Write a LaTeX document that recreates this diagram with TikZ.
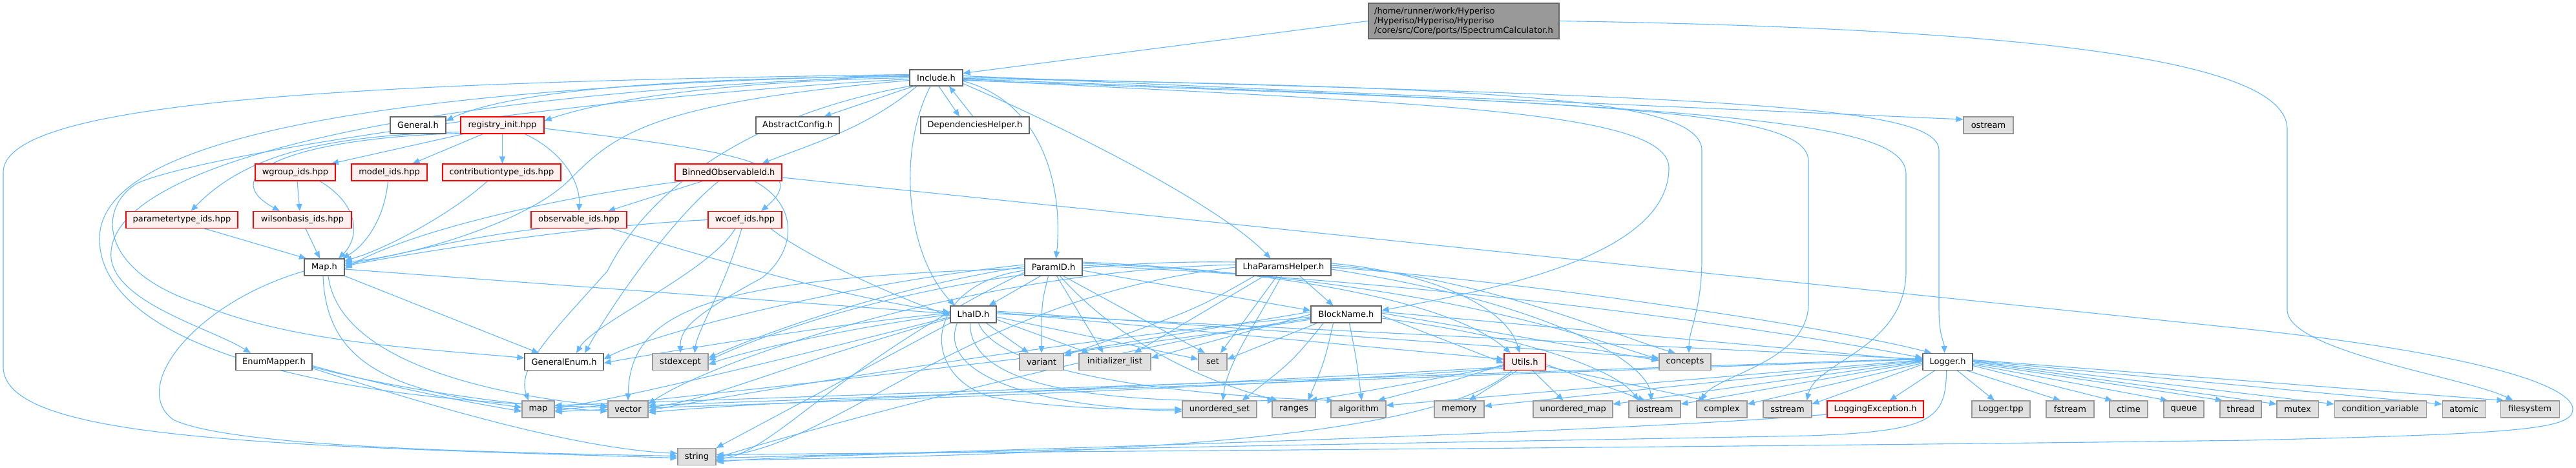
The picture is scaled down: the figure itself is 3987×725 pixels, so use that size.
\documentclass[tikz,border=0pt]{standalone}
\usepackage{fontspec}
\setmainfont{DejaVu Sans}
\usetikzlibrary{arrows.meta}
\definecolor{edgec}{HTML}{63B8FF}
\definecolor{gfour}{HTML}{666666}
\definecolor{gsix}{HTML}{999999}
\definecolor{sysc}{HTML}{E0E0E0}
\definecolor{redf}{HTML}{FFF0F0}
\definecolor{rootc}{HTML}{999999}
\pgfdeclarelayer{bg}
\pgfdeclarelayer{edgelayer}
\pgfsetlayers{bg,edgelayer,main}
\tikzset{
  e/.style={draw=edgec, line width=1.1pt, -{Triangle[length=11pt,width=9pt]}},
  nb/.style={draw=gfour, fill=white, line width=1.1pt, minimum height=26pt, inner sep=0pt, font=\fontsize{13}{15}\selectfont, text=black},
  sb/.style={nb, draw=gsix, fill=sysc},
  rb/.style={nb, draw=red, fill=redf},
  rootb/.style={nb, draw=gfour, fill=rootc, minimum height=55pt, align=left}
}
\begin{document}
\begin{tikzpicture}[x=1pt,y=1pt]
\useasboundingbox (0,0) rectangle (3987,-725);
\begin{pgfonlayer}{bg}
\fill[white] (0,0) rectangle (3987,-725);
\end{pgfonlayer}
% nodes
\node[rootb, minimum width=295pt] (root) at (2265.5,-32.5) {/home/runner/work/Hyperiso\\/Hyperiso/Hyperiso/Hyperiso\\/core/src/Core/ports/ISpectrumCalculator.h};
\node[nb, minimum width=82pt, minimum height=25pt] (inc) at (1449,-120.5) {Include.h};
\node[nb, minimum width=168pt] (dep) at (1509,-194) {DependenciesHelper.h};
\node[nb, minimum width=86pt] (gen) at (647,-194) {General.h};
\node[rb, minimum width=129pt] (reg) at (777.5,-194) {registry\_init.hpp};
\node[nb, minimum width=129pt] (abs) at (1234.5,-194) {AbstractConfig.h};
\node[sb, minimum width=77pt] (ost) at (3077.5,-194) {ostream};
\node[rb, minimum width=124pt] (wgr) at (457,-267) {wgroup\_ids.hpp};
\node[rb, minimum width=117pt] (mod) at (602.5,-267) {model\_ids.hpp};
\node[rb, minimum width=183pt] (con) at (776.5,-267) {contributiontype\_ids.hpp};
\node[rb, minimum width=165pt] (bin) at (1127.5,-267) {BinnedObservableId.h};
\node[rb, minimum width=173pt] (par) at (281.5,-340.5) {parametertype\_ids.hpp};
\node[rb, minimum width=152pt] (wil) at (468,-340.5) {wilsonbasis\_ids.hpp};
\node[rb, minimum width=148pt] (obs) at (896,-340.5) {observable\_ids.hpp};
\node[rb, minimum width=114pt] (wco) at (1153,-340.5) {wcoef\_ids.hpp};
\node[nb, minimum width=62pt] (mapH) at (502,-414) {Map.h};
\node[nb, minimum width=89pt] (pid) at (1630.5,-414) {ParamID.h};
\node[nb, minimum width=147pt] (lph) at (1986.5,-414) {LhaParamsHelper.h};
\node[nb, minimum width=71pt] (lid) at (1506.5,-487) {LhaID.h};
\node[nb, minimum width=109pt] (bn) at (2083.5,-487) {BlockName.h};
\node[nb, minimum width=118pt] (enm) at (424,-560.5) {EnumMapper.h};
\node[nb, minimum width=122pt] (genum) at (873,-560.5) {GeneralEnum.h};
\node[sb, minimum width=86pt] (stdx) at (1053,-560.5) {stdexcept};
\node[sb, minimum width=68pt] (var) at (1612,-560.5) {variant};
\node[sb, minimum width=111pt] (ini) at (1725.5,-560.5) {initializer\_list};
\node[sb, minimum width=44pt] (sset) at (1877,-560.5) {set};
\node[rb, minimum width=64pt] (uti) at (2360,-560.5) {Utils.h};
\node[sb, minimum width=80pt] (cpt) at (2608,-560.5) {concepts};
\node[nb, minimum width=77pt] (log) at (3014.5,-560.5) {Logger.h};
\node[sb, minimum width=50pt] (smap) at (833,-634) {map};
\node[sb, minimum width=62pt] (vec) at (972,-634) {vector};
\node[sb, minimum width=115pt] (uset) at (1887.5,-634) {unordered\_set};
\node[sb, minimum width=67pt] (rng) at (2002.5,-634) {ranges};
\node[sb, minimum width=85pt] (alg) at (2102.5,-634) {algorithm};
\node[sb, minimum width=77pt] (mem) at (2258.5,-634) {memory};
\node[sb, minimum width=123pt] (umap) at (2434.5,-634) {unordered\_map};
\node[sb, minimum width=80pt] (ios) at (2561,-634) {iostream};
\node[sb, minimum width=78pt] (cpx) at (2665,-634) {complex};
\node[sb, minimum width=75pt] (sst) at (2766.5,-634) {sstream};
\node[rb, minimum width=149pt] (lex) at (2902.5,-634) {LoggingException.h};
\node[sb, minimum width=90pt] (ltpp) at (3097,-634) {Logger.tpp};
\node[sb, minimum width=74pt] (fst) at (3204,-634) {fstream};
\node[sb, minimum width=59pt] (ctm) at (3294.5,-634) {ctime};
\node[sb, minimum width=62pt] (que) at (3380,-634) {queue};
\node[sb, minimum width=64pt] (thr) at (3468,-634) {thread};
\node[sb, minimum width=64pt] (mtx) at (3556,-634) {mutex};
\node[sb, minimum width=142pt] (cv) at (3684,-634) {condition\_variable};
\node[sb, minimum width=67pt] (atm) at (3813.5,-634) {atomic};
\node[sb, minimum width=91pt] (fsys) at (3915.5,-634) {filesystem};
\node[sb, minimum width=59pt] (str) at (1078.5,-707.5) {string};
% edges
\begin{pgfonlayer}{edgelayer}
% root
\draw[e] (root.west) -- ([yshift=7pt]inc.east);
\draw[e] (root.east) .. controls (3200,-45) and (3540,-100) .. (3540,-200) -- (3540,-480) .. controls (3540,-545) and (3820,-585) .. ([xshift=-26pt]fsys.north);
% Include
\draw[e] ([xshift=4pt]inc.south) -- ([xshift=-24pt]dep.north);
\draw[e] ([xshift=-3pt]dep.north) -- ([xshift=20pt]inc.south);
\draw[e] ([yshift=2pt]inc.west) .. controls (1100,-120) and (800,-135) .. ([yshift=7pt]gen.east);
\draw[e] ([yshift=0pt]inc.west) .. controls (1150,-125) and (950,-150) .. ([yshift=7pt]reg.east);
\draw[e] ([xshift=-35pt]inc.south) -- ([xshift=41pt]abs.north);
\draw[e] ([xshift=-30pt]inc.south) .. controls (1340,-200) and (1250,-225) .. ([xshift=52pt]bin.north);
\draw[e] ([yshift=-5pt]inc.east) .. controls (1620,-160) and (1645,-300) .. ([xshift=4pt]pid.north);
\draw[e] ([yshift=-9pt]inc.east) .. controls (1700,-220) and (1900,-330) .. ([xshift=-20pt]lph.north);
\draw[e] ([xshift=-9pt]inc.south) .. controls (1390,-230) and (1400,-390) .. ([xshift=-29pt]lid.north);
\draw[e] ([yshift=-3pt]inc.east) .. controls (2200,-160) and (2583,-170) .. (2583,-260) .. controls (2583,-400) and (2300,-450) .. ([yshift=6pt]bn.east);
\draw[e] ([yshift=-1pt]inc.east) .. controls (2300,-135) and (2634,-150) .. (2634,-233) -- (2634,-400) .. controls (2634,-480) and (2614,-510) .. ([xshift=6pt]cpt.north);
\draw[e] ([yshift=3pt]inc.east) -- ([yshift=9pt]ost.west);
\draw[e] ([yshift=1pt]inc.east) .. controls (2700,-150) and (3001,-165) .. (3001,-233) -- (3001,-480) .. controls (3001,-520) and (3009,-530) .. ([xshift=-5pt]log.north);
\draw[e] ([yshift=-2pt]inc.east) .. controls (2700,-165) and (2950,-190) .. (2950,-270) -- (2950,-420) .. controls (2950,-540) and (2810,-560) .. ([xshift=30pt]sst.north);
\draw[e] ([yshift=-4pt]inc.east) .. controls (2500,-160) and (2799,-170) .. (2799,-250) -- (2799,-470) .. controls (2799,-560) and (2660,-580) .. ([xshift=-33pt]cpx.north);
\draw[e] ([yshift=5pt]inc.west) .. controls (500,-128) and (5,-160) .. (5,-267) -- (5,-568) .. controls (5,-680) and (400,-690) .. ([yshift=-2pt]str.west);
\draw[e] ([yshift=4pt]inc.west) .. controls (550,-135) and (154,-220) .. (154,-370) .. controls (154,-520) and (450,-620) .. ([yshift=3pt]vec.west);
\draw[e] ([yshift=3pt]inc.west) .. controls (600,-145) and (160,-260) .. (172,-400) .. controls (180,-470) and (330,-510) .. ([xshift=-36pt]enm.north);
\draw[e] ([yshift=-2pt]inc.west) .. controls (900,-150) and (330,-235) .. (214,-283) .. controls (150,-320) and (150,-420) .. (312,-472) .. controls (450,-530) and (650,-540) .. ([yshift=6pt]genum.west);
\draw[e] ([yshift=-4pt]inc.west) .. controls (1000,-160) and (950,-210) .. (880,-280) .. controls (820,-340) and (650,-395) .. ([yshift=8pt]mapH.east);
\draw[e] (inc.south west) .. controls (1150,-180) and (1000,-300) .. (940,-420) .. controls (850,-520) and (800,-570) .. ([xshift=-15pt]smap.north);
% registry
\draw[e] ([xshift=-60pt]reg.south) -- ([xshift=56pt]wgr.north);
\draw[e] ([xshift=-30pt]reg.south) -- ([xshift=36pt]mod.north);
\draw[e] (reg.south) -- ([xshift=1pt]con.north);
\draw[e] ([yshift=3pt]reg.south west) .. controls (500,-210) and (380,-240) .. ([xshift=14pt]par.north);
\draw[e] ([yshift=1pt]reg.south west) .. controls (450,-214) and (330,-270) .. ([xshift=-35pt]wil.north);
\draw[e] ([xshift=35pt]reg.south) .. controls (880,-240) and (898,-290) .. (obs.north);
\draw[e] ([yshift=-5pt]reg.east) .. controls (1100,-230) and (1270,-250) .. ([xshift=25pt]wco.north);
% ids
\draw[e] ([xshift=3pt]wgr.south) -- ([xshift=-4pt]wil.north);
\draw[e] ([xshift=38pt]wgr.south) .. controls (560,-320) and (555,-370) .. ([xshift=22pt]mapH.north);
\draw[e] ([xshift=-2pt]mod.south) .. controls (595,-340) and (565,-380) .. ([xshift=28pt]mapH.north);
\draw[e] ([xshift=-22pt]con.south) .. controls (700,-330) and (600,-385) .. ([yshift=10pt]mapH.east);
\draw[e] ([xshift=35pt]par.south) -- ([xshift=-28pt]mapH.north);
\draw[e] ([xshift=5pt]wil.south) -- ([xshift=-7pt]mapH.north);
\draw[e] ([xshift=-60pt]obs.south) .. controls (700,-370) and (600,-400) .. ([yshift=5pt]mapH.east);
\draw[e] ([xshift=50pt]obs.south) .. controls (1100,-400) and (1300,-460) .. ([yshift=3pt]lid.west);
\draw[e] (wco.west) .. controls (900,-350) and (650,-390) .. ([yshift=2pt]mapH.east);
\draw[e] ([xshift=-15pt]wco.south) .. controls (1100,-420) and (920,-500) .. ([xshift=19pt]genum.north);
\draw[e] ([xshift=-5pt]wco.south) .. controls (1120,-450) and (1080,-510) .. ([xshift=22pt]stdx.north);
\draw[e] ([xshift=40pt]wco.south) .. controls (1250,-400) and (1400,-465) .. ([yshift=-2pt]lid.west);
\draw[e] ([xshift=-40pt]bin.south) -- ([xshift=45pt]obs.north);
\draw[e] ([xshift=-15pt]bin.south) .. controls (1050,-330) and (960,-450) .. ([xshift=32pt]genum.north);
\draw[e] ([xshift=40pt]bin.south) .. controls (1240,-320) and (1230,-390) .. (1180,-430) .. controls (1070,-490) and (1053,-510) .. (stdx.north);
\draw[e] ([xshift=-70pt]bin.south) .. controls (900,-300) and (650,-350) .. ([yshift=-2pt]mapH.east);
\draw[e] ([yshift=-8pt]bin.east) -- (3480,-510) .. controls (3850,-550) and (3985,-600) .. (3982,-635) .. controls (3980,-665) and (3900,-672) .. (3480,-682) .. controls (2500,-695) and (1500,-700) .. ([yshift=3pt]str.east);
% Map
\draw[e] (mapH.south east) -- ([xshift=-39pt]genum.north);
\draw[e] ([xshift=-2pt]mapH.south) .. controls (505,-560) and (600,-605) .. ([yshift=3pt]smap.west);
\draw[e] ([xshift=6pt]mapH.south) .. controls (525,-560) and (760,-612) .. ([yshift=5pt]vec.west);
\draw[e] ([yshift=-6pt]mapH.west) .. controls (300,-470) and (200,-600) .. (268,-650) .. controls (350,-690) and (700,-700) .. ([yshift=1pt]str.west);
\draw[e] ([yshift=-3pt]mapH.east) -- ([yshift=1pt]lid.west);
% EnumMapper
\draw[e] ([yshift=-6pt]enm.east) .. controls (600,-600) and (750,-628) .. ([yshift=-3pt]smap.west);
\draw[e] ([yshift=-8pt]enm.east) .. controls (650,-612) and (850,-632) .. ([yshift=-3pt]vec.west);
\draw[e] ([yshift=-10pt]enm.east) .. controls (700,-640) and (900,-695) .. ([yshift=5pt]str.west);
% ParamID
\draw[e] ([xshift=-20pt]pid.south) -- ([xshift=24pt]lid.north);
\draw[e] ([xshift=-8pt]pid.south) .. controls (1612,-470) .. (var.north);
\draw[e] ([xshift=5pt]pid.south) -- ([xshift=-18pt]ini.north);
\draw[e] ([xshift=15pt]pid.south) -- ([xshift=-12pt]sset.north);
\draw[e] ([xshift=10pt]pid.south) .. controls (1750,-550) and (1900,-600) .. ([xshift=-25pt]rng.north);
\draw[e] ([yshift=-5pt]pid.east) -- ([yshift=6pt]bn.west);
\draw[e] ([yshift=4pt]pid.west) .. controls (1300,-440) and (1000,-520) .. ([yshift=4pt]genum.east);
\draw[e] ([yshift=1pt]pid.west) .. controls (1350,-450) and (1150,-530) .. ([yshift=6pt]stdx.east);
\draw[e] ([yshift=-2pt]pid.west) .. controls (1100,-430) and (975,-480) .. (vec.north);
\draw[e] ([yshift=-8pt]pid.west) .. controls (1300,-560) and (1200,-700) .. ([yshift=-4pt]str.east);
\draw[e] ([yshift=-5pt]pid.west) .. controls (1430,-440) and (1420,-580) .. (1534,-615) .. controls (1650,-635) and (1750,-634) .. (uset.west);
\draw[e] ([yshift=8pt]pid.east) .. controls (2000,-420) and (2250,-470) .. ([xshift=-22pt]uti.north);
\draw[e] ([yshift=6pt]pid.east) .. controls (2200,-430) and (2450,-520) .. ([yshift=4pt]cpt.west);
\draw[e] ([yshift=3pt]pid.east) .. controls (2300,-440) and (2800,-520) .. ([yshift=6pt]log.west);
% LhaParamsHelper
\draw[e] ([xshift=25pt]lph.south) -- ([xshift=-20pt]bn.north);
\draw[e] ([xshift=-45pt]lph.south) .. controls (1850,-480) .. ([yshift=9pt]var.east);
\draw[e] ([xshift=-30pt]lph.south) -- ([xshift=30pt]ini.north);
\draw[e] ([xshift=-10pt]lph.south) -- ([xshift=12pt]sset.north);
\draw[e] ([xshift=-3pt]lph.south) .. controls (1945,-500) and (1900,-560) .. ([xshift=5pt]uset.north);
\draw[e] ([yshift=8pt]lph.west) .. controls (1500,-400) and (1200,-510) .. ([yshift=2pt]stdx.east);
\draw[e] ([yshift=4pt]lph.west) .. controls (1500,-420) and (1100,-560) .. ([yshift=8pt]vec.east);
\draw[e] (lph.west) .. controls (1500,-460) and (1300,-690) .. (str.east);
\draw[e] ([yshift=6pt]lph.east) .. controls (2200,-420) and (2330,-470) .. ([xshift=-8pt]uti.north);
\draw[e] ([yshift=3pt]lph.east) .. controls (2300,-430) and (2500,-520) .. ([xshift=-15pt]cpt.north);
\draw[e] (lph.east) .. controls (2400,-440) and (2850,-510) .. ([xshift=-25pt]log.north);
\draw[e] ([yshift=-3pt]lph.east) .. controls (2400,-470) and (2550,-560) .. ([xshift=-5pt]ios.north);
% LhaID
\draw[e] ([xshift=20pt]lid.south) -- ([xshift=-20pt]var.north);
\draw[e] ([yshift=-8pt]lid.east) -- ([xshift=-40pt]ini.north);
\draw[e] ([yshift=-4pt]lid.east) -- ([yshift=4pt]sset.west);
\draw[e] ([xshift=-25pt]lid.south) .. controls (1450,-580) and (1600,-630) .. ([yshift=-3pt]uset.west);
\draw[e] ([xshift=-5pt]lid.south) .. controls (1500,-600) and (1700,-625) .. ([xshift=-30pt]rng.north);
\draw[e] ([xshift=8pt]lid.south) .. controls (1550,-590) and (1900,-615) .. ([xshift=-38pt]alg.north);
\draw[e] ([yshift=2pt]lid.west) .. controls (1300,-500) and (1000,-550) .. ([yshift=-2pt]genum.east);
\draw[e] (lid.west) .. controls (1300,-510) and (1150,-545) .. ([yshift=-4pt]stdx.east);
\draw[e] ([yshift=-4pt]lid.west) .. controls (1200,-560) and (950,-620) .. ([yshift=2pt]smap.east);
\draw[e] ([yshift=-6pt]lid.west) .. controls (1200,-570) and (1100,-620) .. ([yshift=3pt]vec.east);
\draw[e] (lid.south west) -- (str.north east);
\draw[e] ([yshift=5pt]lid.east) -- ([yshift=6pt]cpt.west);
\draw[e] ([yshift=3pt]lid.east) -- ([yshift=4pt]uti.west);
\draw[e] ([yshift=1pt]lid.east) -- ([yshift=4pt]log.west);
% BlockName
\draw[e] ([yshift=4pt]bn.west) -- (var.north east);
\draw[e] (bn.west) -- ([yshift=6pt]ini.east);
\draw[e] ([xshift=-45pt]bn.south) -- ([yshift=4pt]sset.east);
\draw[e] ([xshift=-35pt]bn.south) .. controls (2000,-560) .. ([xshift=35pt]uset.north);
\draw[e] ([xshift=-20pt]bn.south) .. controls (2050,-560) .. ([xshift=22pt]rng.north);
\draw[e] ([xshift=5pt]bn.south) .. controls (2100,-560) .. ([xshift=5pt]alg.north);
\draw[e] ([yshift=-4pt]bn.west) .. controls (1700,-520) and (1200,-600) .. ([yshift=-2pt]vec.east);
\draw[e] ([yshift=-6pt]bn.west) .. controls (1700,-540) and (1200,-680) .. ([yshift=-2pt]str.east);
\draw[e] ([yshift=-8pt]bn.west) .. controls (1600,-560) and (1000,-620) .. ([yshift=-2pt]smap.east);
\draw[e] ([yshift=-2pt]bn.east) -- ([yshift=-2pt]uti.west);
\draw[e] ([yshift=2pt]bn.east) -- ([yshift=2pt]cpt.west);
\draw[e] ([yshift=4pt]bn.east) -- ([yshift=2pt]log.west);
\draw[e] ([yshift=-6pt]bn.east) .. controls (2350,-520) and (2500,-570) .. ([xshift=-25pt]ios.north);
% Utils
\draw[e] ([yshift=-4pt]uti.west) .. controls (2250,-590) .. ([xshift=30pt]alg.north);
\draw[e] ([xshift=-12pt]uti.south) -- ([xshift=15pt]mem.north);
\draw[e] ([xshift=12pt]uti.south) -- ([xshift=-15pt]umap.north);
\draw[e] ([yshift=-4pt]uti.east) -- ([xshift=-15pt]ios.north);
\draw[e] ([yshift=-7pt]uti.east) -- ([xshift=-25pt]cpx.north);
\draw[e] ([yshift=-8pt]uti.west) .. controls (1800,-600) and (1200,-620) .. ([yshift=-5pt]vec.east);
\draw[e] ([yshift=-10pt]uti.west) .. controls (1800,-610) and (1000,-630) .. ([yshift=-4pt]smap.east);
\draw[e] ([xshift=-20pt]uti.south) .. controls (2200,-700) and (1500,-705) .. ([yshift=-6pt]str.east);
\draw[e] ([yshift=-6pt]uti.west) .. controls (2150,-600) .. ([xshift=25pt]rng.north);
% Logger
\draw[e] ([xshift=-20pt]log.south) -- ([xshift=22pt]lex.north);
\draw[e] ([xshift=15pt]log.south) -- ([xshift=-10pt]ltpp.north);
\draw[e] ([xshift=30pt]log.south) -- ([xshift=-15pt]fst.north);
\draw[e] ([yshift=-6pt]log.east) -- ([xshift=-25pt]ctm.north);
\draw[e] ([yshift=-4pt]log.east) -- ([xshift=-25pt]que.north);
\draw[e] ([yshift=-2pt]log.east) -- ([xshift=-28pt]thr.north);
\draw[e] (log.east) -- ([yshift=8pt]mtx.west);
\draw[e] ([yshift=1pt]log.east) -- ([yshift=8pt]cv.west);
\draw[e] ([yshift=2pt]log.east) -- ([yshift=8pt]atm.west);
\draw[e] ([yshift=3pt]log.east) -- ([xshift=-40pt]fsys.north);
\draw[e] ([xshift=-2pt]log.south) .. controls (3012,-650) and (2990,-668) .. (2800,-675) .. controls (2000,-690) and (1300,-700) .. ([yshift=-8pt]str.east);
\draw[e] ([yshift=-4pt]log.west) -- ([yshift=8pt]sst.east);
\draw[e] ([yshift=-2pt]log.west) -- ([yshift=8pt]cpx.east);
\draw[e] (log.west) -- ([yshift=8pt]ios.east);
\draw[e] ([yshift=1pt]log.west) -- ([yshift=8pt]umap.east);
\draw[e] ([yshift=2pt]log.west) -- ([yshift=5pt]mem.east);
\draw[e] ([yshift=3pt]log.west) -- ([yshift=6pt]alg.east);
\draw[e] ([yshift=4pt]log.west) -- ([yshift=6pt]vec.east);
\draw[e] ([yshift=5pt]log.west) -- ([yshift=6pt]smap.east);
% LoggingException
\draw[e] ([yshift=-8pt]lex.west) .. controls (2500,-670) and (1500,-700) .. ([yshift=-2pt]str.east);
\end{pgfonlayer}
\end{tikzpicture}
\end{document}
